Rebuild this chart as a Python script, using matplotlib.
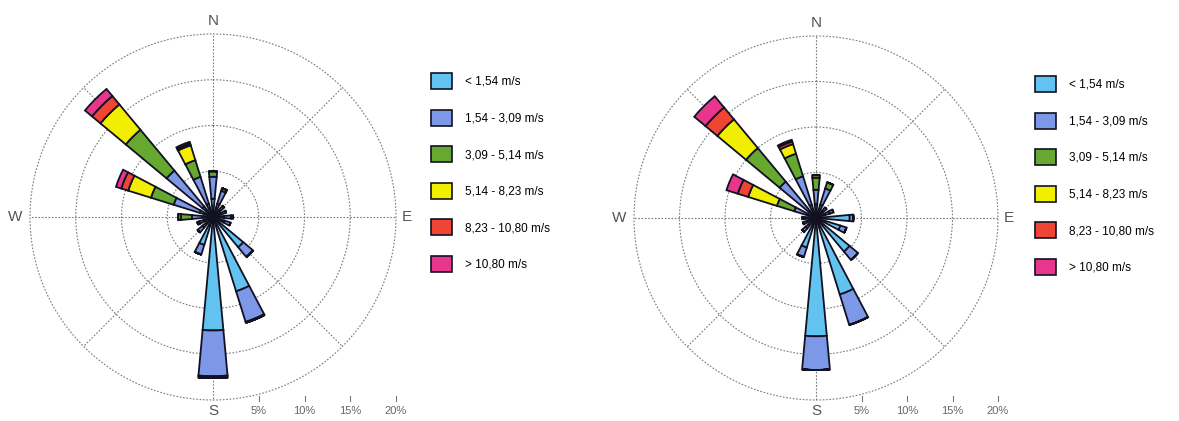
"""Two wind roses (16 directions, 6 speed classes) side by side, each with its own legend."""
import numpy as np
import matplotlib
matplotlib.use("Agg")
from matplotlib import pyplot as plt
from matplotlib.patches import Patch

# directions, clockwise from north
directions = ["N", "NNE", "NE", "ENE", "E", "ESE", "SE", "SSE",
              "S", "SSW", "SW", "WSW", "W", "WNW", "NW", "NNW"]
speed_classes = ["< 1,54 m/s", "1,54 - 3,09 m/s", "3,09 - 5,14 m/s",
                 "5,14 - 8,23 m/s", "8,23 - 10,80 m/s", "> 10,80 m/s"]
class_colors = ["#62c3f0", "#7d98e6", "#66a830", "#f2ee00", "#ef4535", "#e8368c"]

# frequency (%) per direction and speed class - left rose
left_lt_154 = [2.0, 1.5, 1.0, 0.9, 1.2, 1.3, 4.3, 8.5, 12.4, 3.2, 1.5, 1.0, 1.0, 1.5, 1.5, 1.5]
left_154_309 = [2.4, 1.5, 0.6, 0.6, 0.8, 0.7, 1.4, 3.5, 5.0, 1.1, 0.7, 0.6, 1.3, 3.0, 5.1, 3.1]
left_309_514 = [0.6, 0.3, 0.0, 0.0, 0.2, 0.0, 0.0, 0.1, 0.2, 0.0, 0.0, 0.2, 1.2, 2.6, 5.8, 1.9]
left_514_823 = [0.0, 0.0, 0.0, 0.0, 0.0, 0.0, 0.0, 0.0, 0.0, 0.0, 0.0, 0.0, 0.3, 2.6, 3.6, 1.7]
left_823_1080 = [0.0, 0.0, 0.0, 0.0, 0.0, 0.0, 0.0, 0.0, 0.0, 0.0, 0.0, 0.0, 0.0, 0.8, 1.2, 0.2]
left_gt_1080 = [0.0, 0.0, 0.0, 0.0, 0.0, 0.0, 0.0, 0.0, 0.0, 0.0, 0.0, 0.0, 0.0, 0.6, 1.0, 0.2]

# frequency (%) per direction and speed class - right rose
right_lt_154 = [1.5, 1.5, 1.0, 1.6, 3.7, 2.8, 4.8, 8.8, 13.0, 3.4, 1.5, 1.0, 0.8, 1.0, 1.0, 1.5]
right_154_309 = [1.6, 1.9, 0.5, 0.4, 0.4, 0.7, 1.2, 3.5, 3.7, 1.1, 0.5, 0.5, 0.5, 1.5, 4.2, 3.3]
right_309_514 = [1.3, 0.7, 0.0, 0.0, 0.0, 0.0, 0.0, 0.0, 0.0, 0.0, 0.0, 0.0, 0.2, 2.0, 4.8, 2.6]
right_514_823 = [0.3, 0.0, 0.0, 0.0, 0.0, 0.0, 0.0, 0.0, 0.0, 0.0, 0.0, 0.0, 0.0, 3.3, 4.1, 1.1]
right_823_1080 = [0.0, 0.0, 0.0, 0.0, 0.0, 0.0, 0.0, 0.0, 0.0, 0.0, 0.0, 0.0, 0.0, 1.2, 1.7, 0.3]
right_gt_1080 = [0.0, 0.0, 0.0, 0.0, 0.0, 0.0, 0.0, 0.0, 0.0, 0.0, 0.0, 0.0, 0.0, 1.3, 1.6, 0.2]

ring_values = [5, 10, 15, 20]
ring_labels = ["5%", "10%", "15%", "20%"]

TEXT_FONT = ["Liberation Sans", "DejaVu Sans"]
DOTTED = (0, (1.5, 1.5))


def draw_rose(ax, series):
    """stack the speed classes as wedges for every direction"""
    theta = np.radians(np.arange(len(directions)) * 22.5)
    bottom = np.zeros(len(directions))
    for values, color in zip(series, class_colors):
        values = np.array(values)
        ax.bar(theta, values, width=np.radians(10.5), bottom=bottom,
               color=color, edgecolor="#111122", linewidth=1.3, zorder=3)
        bottom = bottom + values

    ax.set_theta_zero_location("N")
    ax.set_theta_direction(-1)
    ax.set_ylim(0, 20)
    ax.set_facecolor("none")
    ax.set_yticks(ring_values[:-1])
    ax.set_yticklabels([])
    ax.set_xticks(np.radians(np.arange(0, 360, 45)))
    ax.set_xticklabels([])
    ax.grid(True, color="#7a7a7a", linestyle=DOTTED, linewidth=0.8)
    ax.spines["polar"].set_visible(False)
    # outer ring, dotted like the others
    circle = np.linspace(0, 2 * np.pi, 361)
    ax.plot(circle, np.full_like(circle, 20), color="#7a7a7a", linestyle=DOTTED,
            linewidth=0.8, clip_on=False)

    # compass letters
    for label, x, y in [("N", 0.5, 1.035), ("S", 0.5, -0.03),
                        ("W", -0.04, 0.5), ("E", 1.03, 0.5)]:
        ax.text(x, y, label, transform=ax.transAxes, ha="center", va="center",
                fontsize=11, color="#555555", family=TEXT_FONT)

    # percentage scale along the bottom
    for r, text in zip(ring_values, ring_labels):
        x = 0.5 + r / 40
        ax.plot([x, x], [-0.002, 0.01], transform=ax.transAxes, color="#777777",
                linewidth=0.8, clip_on=False)
        ax.text(x, -0.03, text, transform=ax.transAxes, ha="center", va="center",
                fontsize=8, color="#666666", family=TEXT_FONT)


def add_legend(fig, left, top):
    """legend with one coloured square per speed class"""
    handles = [Patch(facecolor=c, edgecolor="#111122", linewidth=1.2) for c in class_colors]
    fig.legend(handles, speed_classes, loc="upper left",
               bbox_to_anchor=(left / 1179, 1 - top / 421),
               frameon=False, handlelength=1.75, handleheight=1.7,
               labelspacing=1.75, handletextpad=1.1, borderpad=0, borderaxespad=0,
               prop={"family": TEXT_FONT, "size": 8.5})


fig = plt.figure(figsize=(11.79, 4.21), dpi=100)
fig.patch.set_facecolor("white")

ax_left = fig.add_axes([30 / 1179, 21 / 421, 366 / 1179, 366 / 421], projection="polar")
draw_rose(ax_left, [left_lt_154, left_154_309, left_309_514,
                    left_514_823, left_823_1080, left_gt_1080])

ax_right = fig.add_axes([634 / 1179, 21 / 421, 364 / 1179, 364 / 421], projection="polar")
draw_rose(ax_right, [right_lt_154, right_154_309, right_309_514,
                     right_514_823, right_823_1080, right_gt_1080])

add_legend(fig, 431, 73)
add_legend(fig, 1035, 76)

fig.savefig("out.png", dpi=100)
